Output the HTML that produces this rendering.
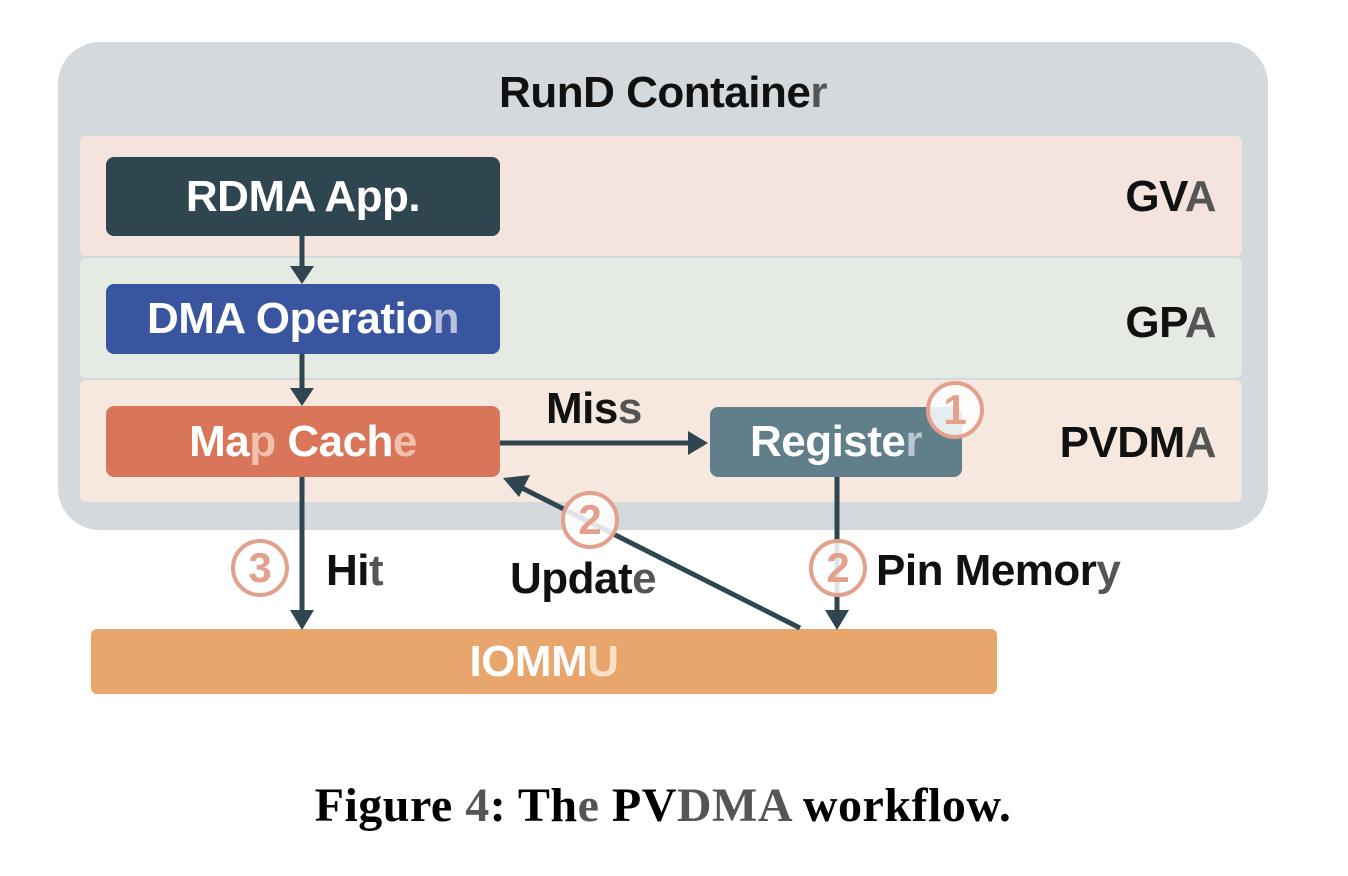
<!DOCTYPE html>
<html><head><style>
body{margin:0;width:1348px;height:876px;background:#fff;position:relative;overflow:hidden;font-family:"Liberation Sans","DejaVu Sans",sans-serif}
div{position:absolute;box-sizing:border-box}
.box{display:flex;align-items:center;justify-content:center;color:#fff;font-weight:bold;border-radius:8px;font-size:44px;letter-spacing:-0.5px}
.lab{font-weight:bold;font-size:44px;color:#111;letter-spacing:-0.5px;line-height:50px}
.c{width:58px;height:58px;border-radius:50%;border:4px solid #e3a08c;background:rgba(255,255,255,.85);color:#e3a08c;font-weight:bold;font-size:42px;display:flex;align-items:center;justify-content:center}
</style></head><body>
<div style="left:58px;top:42px;width:1210px;height:488px;background:#d3d9dc;border-radius:42px"></div>
<div class="lab" style="left:0;width:1326px;top:68px;text-align:center;font-size:44px">RunD Containe<span style="color:#555">r</span></div>
<div style="left:80px;top:136px;width:1162px;height:120px;background:#f5e3de;border-radius:6px"></div>
<div style="left:80px;top:258px;width:1162px;height:120px;background:#e5ebe2;border-radius:6px"></div>
<div style="left:80px;top:380px;width:1162px;height:122px;background:#f7e8df;border-radius:6px"></div>
<div class="lab" style="right:132px;top:172px">GV<span style="color:#555">A</span></div>
<div class="lab" style="right:132px;top:298px">GP<span style="color:#555">A</span></div>
<div class="lab" style="right:132px;top:418px">PVDM<span style="color:#555">A</span></div>
<div class="box" style="left:106px;top:157px;width:394px;height:79px;background:#2f4550">RDMA App.</div>
<div class="box" style="left:106px;top:284px;width:394px;height:70px;background:#3a55a0">DMA Operatio<span style="color:#b8c2dd">n</span></div>
<div class="box" style="left:106px;top:406px;width:394px;height:71px;background:#d9765a">Ma<span style="color:#f2c0ae">p</span>&nbsp;Cach<span style="color:#f2c0ae">e</span></div>
<div class="box" style="left:710px;top:407px;width:252px;height:70px;background:#607f8a">Registe<span style="color:#b9c8cd">r</span></div>
<div class="box" style="left:91px;top:629px;width:906px;height:65px;background:#e8a56c;border-radius:6px">IOMM<span style="color:#fbe0c8">U</span></div>
<svg width="1348" height="876" style="position:absolute;left:0;top:0">
<g stroke="#2f4550" stroke-width="5" fill="none">
<line x1="302" y1="236" x2="302" y2="268"/>
<line x1="302" y1="354" x2="302" y2="390"/>
<line x1="302" y1="477" x2="302" y2="612"/>
<line x1="500" y1="443" x2="690" y2="443"/>
<line x1="837" y1="477" x2="837" y2="612"/>
<line x1="800" y1="628" x2="520" y2="487"/>
</g>
<g fill="#2f4550">
<polygon points="290,266 314,266 302,284"/>
<polygon points="290,388 314,388 302,406"/>
<polygon points="290,610 314,610 302,630"/>
<polygon points="688,431 688,455 708,443"/>
<polygon points="825,610 849,610 837,630"/>
<polygon points="503,478 530,475 519,497"/>
</g>
</svg>
<div class="lab" style="left:546px;top:384px">Mis<span style="color:#555">s</span></div>
<div class="lab" style="left:326px;top:546px">Hi<span style="color:#555">t</span></div>
<div class="lab" style="left:510px;top:554px">Updat<span style="color:#555">e</span></div>
<div class="lab" style="left:876px;top:546px">Pin Memor<span style="color:#555">y</span></div>
<div class="c" style="left:926px;top:381px">1</div>
<div class="c" style="left:561px;top:491px">2</div>
<div class="c" style="left:809px;top:539px">2</div>
<div class="c" style="left:231px;top:539px">3</div>
<div style="left:0;width:1326px;top:778px;text-align:center;font-family:'Liberation Serif',serif;font-weight:bold;font-size:48px;letter-spacing:0.5px;color:#000">Figure <span style="color:#555">4</span>: Th<span style="color:#555">e</span> PV<span style="color:#555">DMA</span> workflow.</div>
</body></html>
